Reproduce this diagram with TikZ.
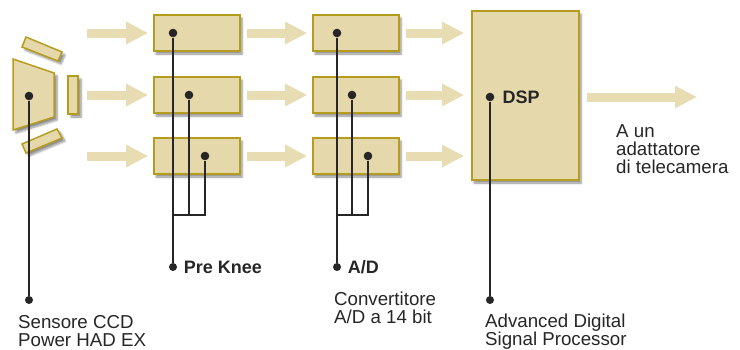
\documentclass[tikz,border=0pt]{standalone}
\usepackage{fontspec}
\setmainfont{Liberation Sans}
\usetikzlibrary{positioning,arrows.meta,shadows.blur}
\definecolor{boxfill}{RGB}{229,217,172}
\definecolor{boxline}{RGB}{182,156,30}
\definecolor{flowfill}{RGB}{231,220,178}
\tikzset{
  blk/.style={draw=boxline, fill=boxfill, line width=1.6pt, inner sep=0pt,
    minimum width=86pt, minimum height=36pt,
    blur shadow={shadow xshift=2pt, shadow yshift=-3pt, shadow blur steps=6, shadow opacity=45}},
  sensor/.style={draw=boxline, fill=boxfill, line width=1.5pt, line join=miter,
    blur shadow={shadow xshift=3pt, shadow yshift=-3pt, shadow blur steps=6, shadow opacity=45}},
  bigdot/.style={circle, fill=black!85, inner sep=0pt, minimum size=8.6pt},
  smalldot/.style={circle, fill=black!85, inner sep=0pt, minimum size=8pt},
  wire/.style={line width=1.1pt, black!85},
  flow/.style={flowfill, line width=9pt, -{Triangle[length=22pt,width=21pt]}},
  lbl/.style={inner sep=0pt, black!85, font=\fontsize{18.7}{18}\selectfont},
  lblb/.style={inner sep=0pt, black!85, font=\fontsize{18}{18}\selectfont\bfseries}
}
\begin{document}
\begin{tikzpicture}[x=1pt,y=-1pt]
\useasboundingbox (0,0) rectangle (740,349);
% CCD prism
\draw[sensor] (26,37) -- (62,52) -- (58,61) -- (22,47) -- cycle;
\draw[sensor] (22,144) -- (57,129) -- (62,138) -- (26,153) -- cycle;
\draw[sensor] (68,76) rectangle (78,114);
\draw[sensor] (13,59) -- (54,73) -- (54,117) -- (13,130) -- cycle;
% DSP
\node[blk, minimum width=107pt, minimum height=169pt] (dsp) at (525.5,95.5) {};
% the three channels
\foreach \r/\y/\a/\b in {1/33/173/337, 2/95/189/352, 3/156/205/368}{
  \node[blk] (pk\r) at (197,\y) {};
  \node[blk] (cv\r) at (356,\y) {};
  \coordinate (in\r) at (87,\y);
  \draw[flow, shorten >=5pt] (in\r) -- (pk\r);
  \draw[flow, shorten <=6pt, shorten >=5pt] (pk\r) -- (cv\r);
  \draw[flow, shorten <=6pt, shorten >=7pt] (cv\r) -- (cv\r -| dsp.west);
  \node[bigdot] (pkd\r) at (\a,\y) {};
  \node[bigdot] (cvd\r) at (\b,\y) {};
}
\coordinate (out) at (697,97);
\draw[flow, shorten <=7pt] (dsp.east |- out) -- (out);
% dots and leads
\node[bigdot] (ccd) at (29,96) {};
\node[bigdot] (dspd) at (490,97) {};
\node[smalldot] (ccdl) at (29,300) {};
\node[smalldot] (pkl) at (173,267) {};
\node[smalldot] (cvl) at (337,267) {};
\node[smalldot] (dspl) at (490,300) {};
\coordinate (pkbus) at (173,215);
\coordinate (cvbus) at (337,215);
\draw[wire] (ccd) -- (ccdl);
\draw[wire] (dspd) -- (dspl);
\draw[wire] (pkd1) -- (pkl);
\draw[wire] (pkd2) -- (pkd2 |- pkbus);
\draw[wire] (pkd3) |- (pkbus);
\draw[wire] (cvd1) -- (cvl);
\draw[wire] (cvd2) -- (cvd2 |- cvbus);
\draw[wire] (cvd3) |- (cvbus);
% labels
\node[lblb, right=8pt of dspd] (dsptxt) {DSP};
\node[lblb, right=6.5pt of pkl] (pktxt) {Pre Knee};
\node[lblb, right=6.5pt of cvl] (cvtxt) {A/D};
\node[lbl, align=left, anchor=north west] (ccdtxt) at (18,315) {Sensore CCD\\Power HAD EX};
\node[lbl, align=left, anchor=north west] (adtxt) at (334,292) {Convertitore\\A/D a 14 bit};
\node[lbl, align=left, anchor=north west] (dsptxt2) at (485,314) {Advanced Digital\\Signal Processor};
\node[lbl, align=left, anchor=north west] (outtxt) at (616,124) {A un\\adattatore\\di telecamera};
\end{tikzpicture}
\end{document}
